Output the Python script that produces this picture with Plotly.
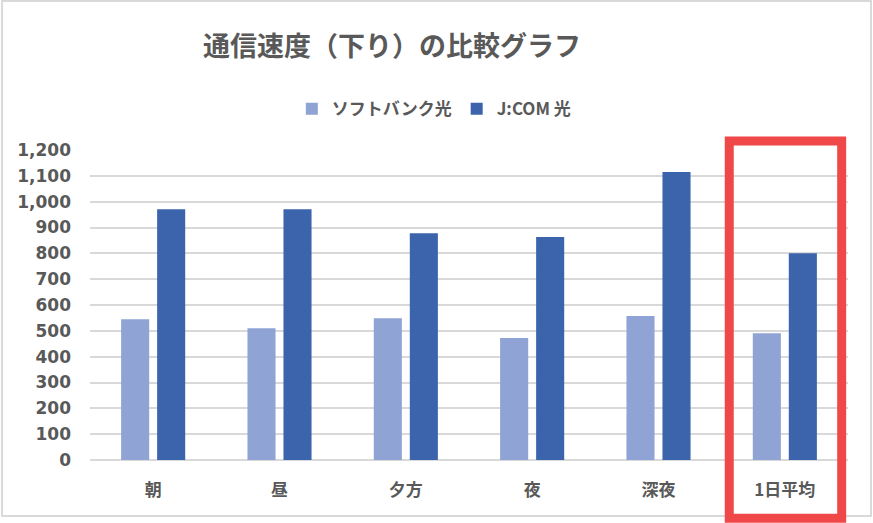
import plotly.graph_objects as go

# 時間帯
categories = ["朝", "昼", "夕方", "夜", "深夜", "1日平均"]
# 通信速度（下り） Mbps
softbank = [545, 510, 549, 472, 557, 491]
jcom = [971, 971, 878, 863, 1115, 800]
series_names = ["ソフトバンク光", "J:COM 光"]
y_ticks = list(range(0, 1300, 100))

font_family = "Noto Sans CJK JP"
grey = "#595959"

fig = go.Figure()
fig.add_trace(go.Bar(x=categories, y=softbank, name=f"<b>{series_names[0]}</b>",
                     marker=dict(color="#8FA3D4", line=dict(width=0))))
fig.add_trace(go.Bar(x=categories, y=jcom, name=f"<b>{series_names[1]}</b>",
                     marker=dict(color="#3B64AD", line=dict(width=0))))

fig.update_layout(
    width=873, height=523,
    margin=dict(l=90, r=25, t=150, b=63),
    paper_bgcolor="white", plot_bgcolor="white",
    barmode="group", bargap=0.43, bargroupgap=0.22,
    font=dict(family=font_family, color=grey),
    title=dict(text="<b>通信速度（下り）の比較グラフ</b>",
               x=392 / 873, xanchor="center", y=1 - 47 / 523, yanchor="middle",
               font=dict(size=27, color=grey, family=font_family)),
    legend=dict(orientation="h", x=396 / 873, xanchor="center",
                y=1.132, yanchor="middle",
                font=dict(size=17, color=grey, family=font_family),
                itemwidth=30, traceorder="normal"),
    showlegend=True,
)

fig.update_xaxes(showgrid=False, showline=False, ticks="",
                 tickvals=categories,
                 ticktext=[f"<b>{c}</b>" for c in categories],
                 tickfont=dict(size=17, color=grey, family=font_family),
                 ticklabelstandoff=18)
fig.update_yaxes(range=[0, 1200], tickvals=y_ticks,
                 ticktext=[f"<b>{v:,}</b>" for v in y_ticks],
                 showgrid=True, gridcolor="#D9D9D9", gridwidth=2,
                 zeroline=True, zerolinecolor="#D9D9D9", zerolinewidth=2,
                 showline=False, ticks="", ticklabelstandoff=18,
                 tickfont=dict(size=17, color=grey, family="DejaVu Sans"))

# 外枠
fig.add_shape(type="rect", xref="paper", yref="paper",
              x0=-0.116, x1=1.0303, y0=-0.1806, y1=1.4806,
              line=dict(color="#D9D9D9", width=2), layer="below")
# 1日平均を囲む赤枠
fig.add_shape(type="rect", xref="x", yref="paper",
              x0=4.56, x1=5.45, y0=-0.188, y1=1.029,
              line=dict(color="#F04848", width=9))

fig.write_html("out.html", config={"displayModeBar": False},
               post_script="document.body.style.margin='0';document.body.style.overflow='hidden';")
